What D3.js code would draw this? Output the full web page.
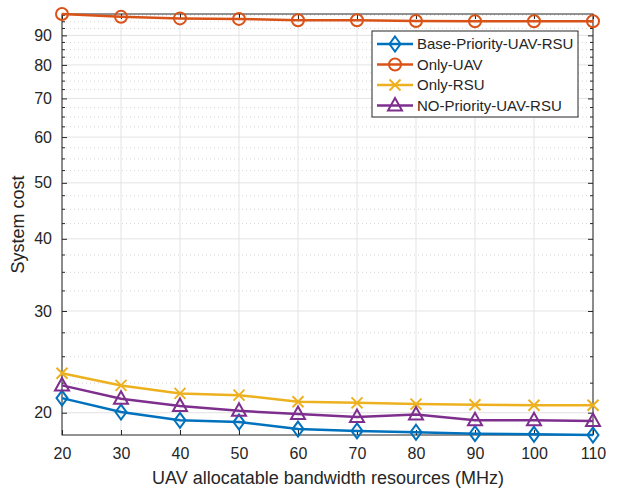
<!DOCTYPE html>
<html><head><meta charset="utf-8">
<script src="https://cdn.jsdelivr.net/npm/d3@7"></script>
<style>body{margin:0;background:#fff}svg{display:block}text{font-family:"Liberation Sans",Arial,sans-serif;fill:#262626}</style>
</head><body><svg id="c" width="618" height="489"></svg>
<script>
const xValues = [20,30,40,50,60,70,80,90,100,110];
const basePriority = [21.2,20.05,19.4,19.27,18.74,18.6,18.5,18.4,18.35,18.3];
const onlyUAV = [98,96.9,96.3,96.1,95.6,95.6,95.3,95.2,95.2,95.2];
const onlyRSU = [23.4,22.3,21.6,21.45,20.9,20.8,20.7,20.65,20.6,20.6];
const noPriority = [22.3,21.15,20.55,20.15,19.9,19.66,19.85,19.4,19.4,19.35];
const seriesNames = ["Base-Priority-UAV-RSU","Only-UAV","Only-RSU","NO-Priority-UAV-RSU"];
const yTicks = [20,30,40,50,60,70,80,90];
const xLabel = "UAV allocatable bandwidth resources (MHz)";
const yLabel = "System cost";

const series = [
  {name:seriesNames[0], values:basePriority, color:"#0072BD", marker:"diamond"},
  {name:seriesNames[1], values:onlyUAV, color:"#D95319", marker:"circle"},
  {name:seriesNames[2], values:onlyRSU, color:"#EDB120", marker:"x"},
  {name:seriesNames[3], values:noPriority, color:"#7E2F8E", marker:"triangle"}
];

const svg = d3.select("#c");
const L=62, R=593, T=14, B=435;
const all = series.flatMap(s=>s.values);
const x = d3.scaleLinear().domain([20,110]).range([L,R]);
const y = d3.scaleLog().domain(d3.extent(all)).range([B,T]);

const minor = [];
for (let v=17.5; v<=100; v+=2.5) { if (v>=y.domain()[0] && v<=y.domain()[1] && !yTicks.includes(v)) minor.push(v); }

const g = svg.append("g");
g.selectAll(".mg").data(minor).enter().append("line")
  .attr("x1",L).attr("x2",R).attr("y1",d=>y(d)).attr("y2",d=>y(d))
  .attr("stroke","#d6d6d6").attr("stroke-width",1).attr("stroke-dasharray","1,3");
g.selectAll(".yg").data(yTicks).enter().append("line")
  .attr("x1",L).attr("x2",R).attr("y1",d=>y(d)).attr("y2",d=>y(d))
  .attr("stroke","#e3e3e3").attr("stroke-width",1);
g.selectAll(".xg").data(xValues).enter().append("line")
  .attr("y1",T).attr("y2",B).attr("x1",d=>x(d)).attr("x2",d=>x(d))
  .attr("stroke","#e3e3e3").attr("stroke-width",1);

const xAxis = d3.axisBottom(x).tickValues(xValues).tickSize(-5).tickPadding(13).tickFormat(d3.format("d"));
const yAxis = d3.axisLeft(y).tickValues(yTicks).tickSize(-5).tickPadding(10).tickFormat(d3.format("d"));
const gx = svg.append("g").attr("transform",`translate(0,${B})`).call(xAxis);
const gy = svg.append("g").attr("transform",`translate(${L},0)`).call(yAxis);
[gx,gy].forEach(a=>{a.select(".domain").remove(); a.selectAll("line").attr("stroke","#262626");
  a.selectAll("text").style("font-size","16px").attr("fill","#262626").style("font-family","Liberation Sans, Arial, sans-serif");});
svg.append("g").attr("transform",`translate(0,${T})`).call(d3.axisTop(x).tickValues(xValues).tickSize(-5).tickFormat(""))
  .call(a=>{a.select(".domain").remove();a.selectAll("line").attr("stroke","#262626");});
svg.append("g").attr("transform",`translate(${R},0)`).call(d3.axisRight(y).tickValues(yTicks).tickSize(-5).tickFormat(""))
  .call(a=>{a.select(".domain").remove();a.selectAll("line").attr("stroke","#262626");});
[L,R].forEach(px=>{
  svg.append("g").selectAll("line").data(minor).enter().append("line")
    .attr("x1",px).attr("x2",px===L?px+3:px-3).attr("y1",d=>y(d)).attr("y2",d=>y(d)).attr("stroke","#262626");
});
svg.append("rect").attr("x",L).attr("y",T).attr("width",R-L).attr("height",B-T)
  .attr("fill","none").attr("stroke","#262626").attr("stroke-width",1);

function drawMarker(sel, type, color, cx, cy){
  if(type==="circle") sel.append("circle").attr("cx",cx).attr("cy",cy).attr("r",6).attr("fill","none").attr("stroke",color).attr("stroke-width",2);
  else if(type==="diamond") sel.append("path").attr("d",`M${cx},${cy-7.5}L${cx+5.5},${cy}L${cx},${cy+7.5}L${cx-5.5},${cy}Z`).attr("fill","none").attr("stroke",color).attr("stroke-width",2);
  else if(type==="x") sel.append("path").attr("d",`M${cx-5.5},${cy-5.5}L${cx+5.5},${cy+5.5}M${cx-5.5},${cy+5.5}L${cx+5.5},${cy-5.5}`).attr("fill","none").attr("stroke",color).attr("stroke-width",2);
  else if(type==="triangle") sel.append("path").attr("d",`M${cx},${cy-7.5}L${cx+7},${cy+5}L${cx-7},${cy+5}Z`).attr("fill","none").attr("stroke",color).attr("stroke-width",2);
}
const line = d3.line().x((d,i)=>x(xValues[i])).y(d=>y(d));
series.forEach(s=>{
  const sg = svg.append("g");
  sg.append("path").attr("d",line(s.values)).attr("fill","none").attr("stroke",s.color).attr("stroke-width",2.5);
  s.values.forEach((v,i)=>drawMarker(sg,s.marker,s.color,x(xValues[i]),y(v)));
});

svg.append("text").attr("x",328).attr("y",484).attr("text-anchor","middle").style("font-size","18px").text(xLabel);
svg.append("text").attr("transform",`translate(24,${(T+B)/2}) rotate(-90)`).attr("text-anchor","middle").style("font-size","18px").text(yLabel);

const lg = svg.append("g");
lg.append("rect").attr("x",372).attr("y",31).attr("width",206).attr("height",86).attr("fill","#fff").attr("stroke","#262626").attr("stroke-width",1);
series.forEach((s,i)=>{
  const cy = 44 + i*20.5;
  lg.append("line").attr("x1",377).attr("x2",413).attr("y1",cy).attr("y2",cy).attr("stroke",s.color).attr("stroke-width",2.5);
  drawMarker(lg,s.marker,s.color,395,cy);
  lg.append("text").attr("x",417).attr("y",cy+5).style("font-size","15px").text(s.name);
});
</script></body></html>
